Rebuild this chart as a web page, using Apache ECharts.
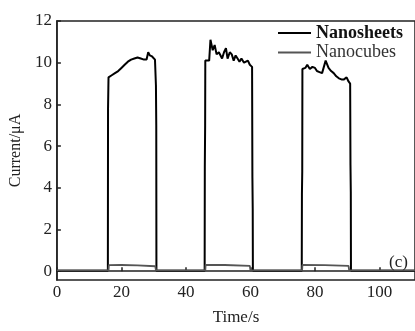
<!DOCTYPE html>
<html>
<head>
<meta charset="utf-8">
<script src="https://cdn.jsdelivr.net/npm/echarts@6/dist/echarts.min.js"></script>
<style>
html,body{margin:0;padding:0;background:#fff;}
#main{width:415px;height:331px;}
</style>
</head>
<body>
<div id="main"></div>
<script>
// Nanosheets photocurrent (time s / current uA)
var sheetTime=[0,15.8,15.85,15.95,16,17,18,19,20,21,22,23,24,25,26,27,27.8,28.3,28.8,29.5,30.4,30.6,30.7,30.8,30.85,
    45.8,45.85,45.95,46,47.2,47.6,48.3,48.9,49.5,50.2,51.2,51.8,52.4,52.9,53.6,54.2,54.8,55.4,56,56.6,57.2,58,58.6,59.2,59.8,60.5,60.6,60.7,60.75,
    75.9,75.95,76.05,76.1,77,77.6,78.4,79.2,80,80.6,81.4,82.2,83.3,84.2,85,85.8,86.6,87.4,88.2,89,89.8,90.4,90.9,91,91.1,91.15,111];
var sheetCurrent=[0.02,0.02,7.8,8.8,9.3,9.4,9.5,9.6,9.75,9.9,10.05,10.15,10.2,10.25,10.2,10.15,10.15,10.5,10.35,10.3,10.15,10.1,8.9,7.0,0.02,
    0.02,5.0,7.0,10.1,10.1,11.1,10.6,10.85,10.4,10.5,10.2,10.5,10.7,10.2,10.5,10.4,10.1,10.35,10.2,10.05,10.2,10.0,9.95,10.1,9.9,9.8,4.5,3.0,0.02,
    0.02,3.7,4.8,9.7,9.75,9.9,9.7,9.8,9.75,9.6,9.55,9.5,10.1,9.75,9.6,9.5,9.35,9.25,9.2,9.2,9.3,9.1,9.0,5.1,3.8,0.02,0.02];
// Nanocubes photocurrent
var cubeTime=[0,16,16.1,20,25,30.5,30.7,46,46.1,52,59.8,60,76,76.1,83,90.4,90.6,111];
var cubeCurrent=[0.04,0.04,0.29,0.3,0.28,0.24,0.04,0.04,0.31,0.3,0.26,0.04,0.04,0.3,0.29,0.26,0.04,0.04];
var yTicks=[0,2,4,6,8,10,12];
var xTicks=[0,20,40,60,80,100];

function pairs(xs,ys){
    var out=[];
    for(var i=0;i<xs.length;i++){out.push([xs[i],ys[i]]);}
    return out;
}

var font='Liberation Serif';
var chart=echarts.init(document.getElementById('main'));
var option={
    animation:false,
    backgroundColor:'#fff',
    title:{text:'(c)',left:384,top:249,textStyle:{fontFamily:font,fontSize:17,fontWeight:'normal',color:'#222'}},
    grid:{left:55,right:-3,top:21,bottom:45,show:true,borderColor:'#222',borderWidth:1.5,backgroundColor:'transparent'},
    legend:{
        orient:'vertical',left:272,top:19,itemWidth:33,itemHeight:14,itemGap:1.5,
        itemStyle:{opacity:0},
        data:[
            {name:'Nanosheets',textStyle:{fontWeight:'bold',color:'#111'}},
            {name:'Nanocubes',textStyle:{color:'#333'}}
        ],
        textStyle:{fontFamily:font,fontSize:18}
    },
    xAxis:{
        type:'value',min:0,max:111,
        name:'Time/s',nameLocation:'middle',nameGap:29,
        nameTextStyle:{fontFamily:font,fontSize:17,color:'#222',verticalAlign:'top'},
        axisLine:{show:true,lineStyle:{color:'#222',width:1.5}},
        axisTick:{show:true,inside:true,length:4,customValues:xTicks,lineStyle:{color:'#222',width:1.5}},
        axisLabel:{customValues:xTicks,fontFamily:font,fontSize:17,color:'#222',margin:4},
        splitLine:{show:false}
    },
    yAxis:{
        type:'value',min:-0.42,max:12,
        name:'Current/μA',nameLocation:'middle',nameGap:27,
        nameTextStyle:{fontFamily:font,fontSize:16,color:'#222'},
        axisLine:{show:true,lineStyle:{color:'#222',width:1.5}},
        axisTick:{show:true,inside:true,length:4,customValues:yTicks,lineStyle:{color:'#222',width:1.5}},
        axisLabel:{customValues:yTicks,fontFamily:font,fontSize:17,color:'#222',margin:5},
        splitLine:{show:false}
    },
    series:[
        {
            name:'Nanosheets',type:'line',symbol:'none',
            lineStyle:{color:'#000',width:2},itemStyle:{color:'#000'},
            data:pairs(sheetTime,sheetCurrent)
        },
        {
            name:'Nanocubes',type:'line',symbol:'none',
            lineStyle:{color:'#555',width:1.8},itemStyle:{color:'#555'},
            data:pairs(cubeTime,cubeCurrent)
        }
    ]
};
chart.setOption(option);
</script>
</body>
</html>
